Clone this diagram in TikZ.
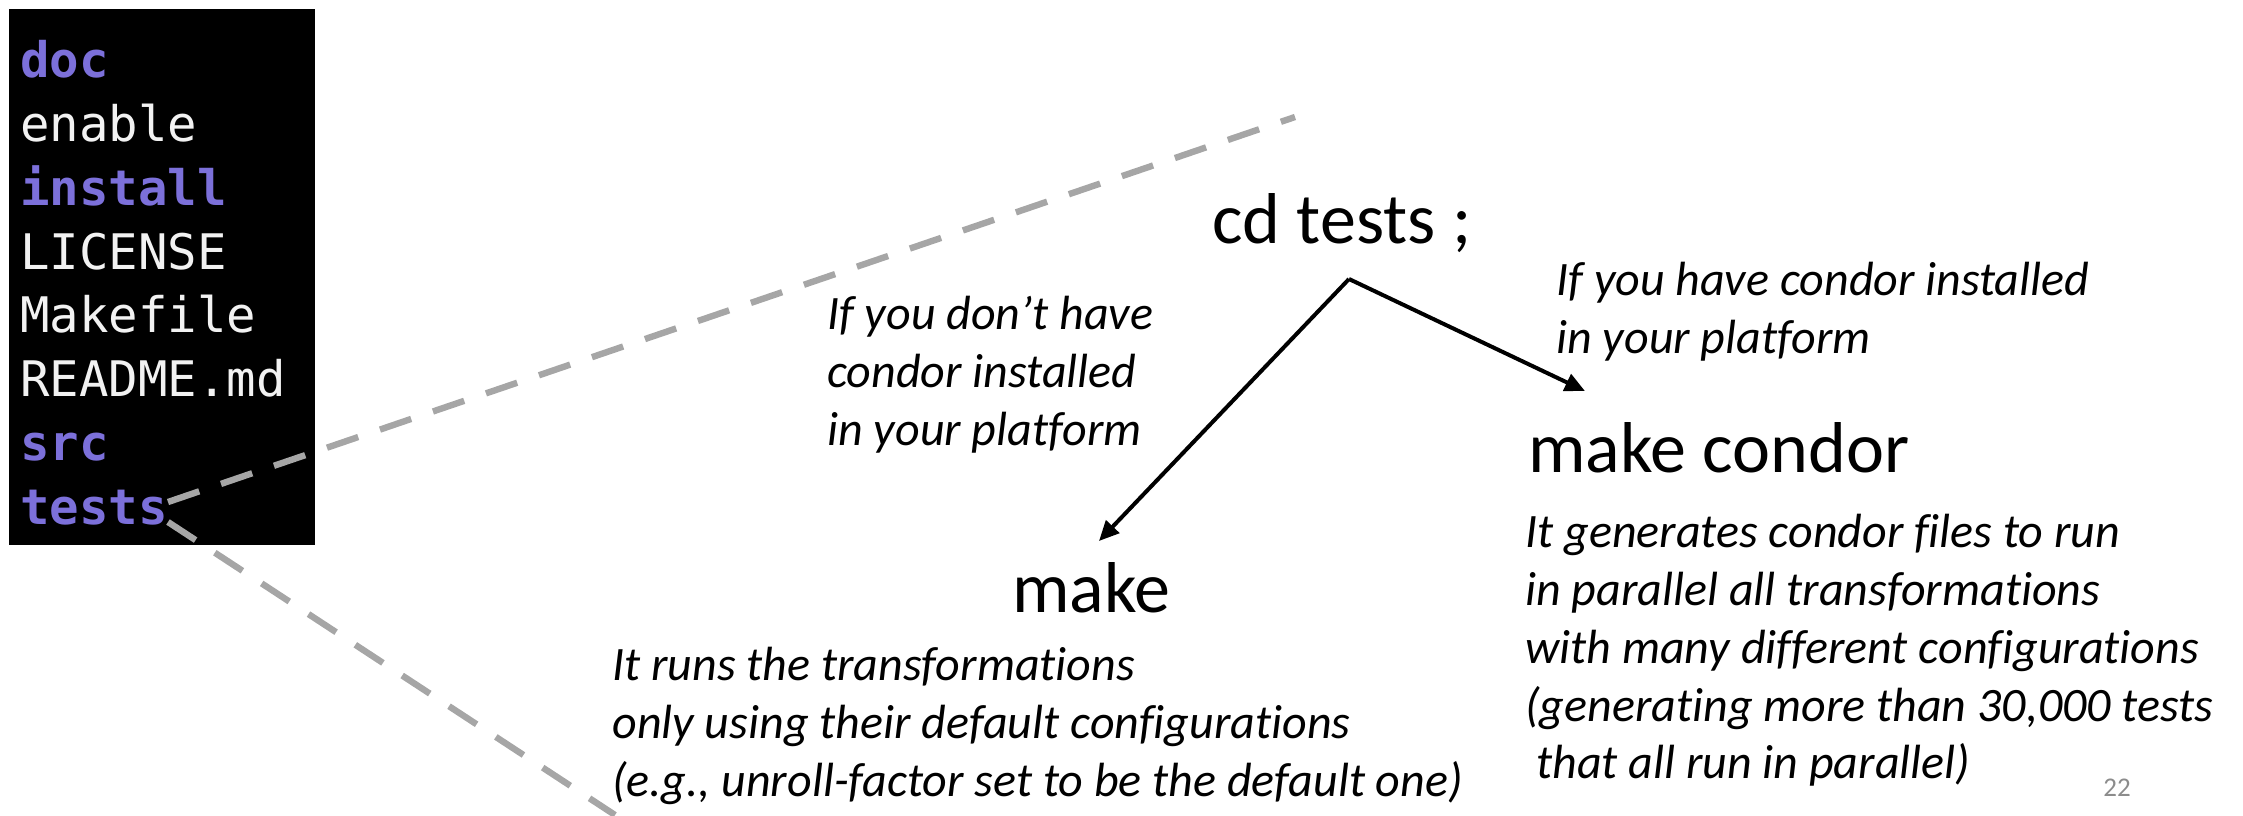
\documentclass[tikz,border=0pt]{standalone}
\usepackage{fontspec}
\setmainfont{Carlito}[RawFeature=-liga]
\newfontfamily\termfont{DejaVu Sans Mono}
\usetikzlibrary{arrows.meta}
\definecolor{dirpurple}{HTML}{7C70DA}
\definecolor{filewhite}{HTML}{F2F2F2}
\definecolor{zoomgrey}{HTML}{A6A6A6}
\definecolor{pagegrey}{HTML}{8C8C8C}
\tikzset{
  listing/.style={font=\termfont\fontsize{24.5}{30}\selectfont, anchor=base west, inner sep=0pt},
  dirname/.style={listing, text=dirpurple, font=\termfont\bfseries\fontsize{24.5}{30}\selectfont},
  filename/.style={listing, text=filewhite},
  command/.style={font=\fontsize{36}{40}\selectfont, inner sep=0pt, anchor=base west},
  note/.style={font=\itshape\fontsize{24}{28.9}\selectfont, inner sep=0pt, anchor=north west, align=left},
  zoomline/.style={draw=zoomgrey, line width=3.2pt, dash pattern=on 16.5pt off 11.5pt},
  branch/.style={draw=black, line width=2pt, -{Triangle[length=10pt,width=9pt]}},
}
\begin{document}
\begin{tikzpicture}[x=0.5pt,y=-0.5pt]
  \useasboundingbox (0,0) rectangle (2243,815);
  % directory listing panel
  \fill[black] (9,9) rectangle (315,545);
  \node[dirname]  (doc)     at (20,77)  {doc};
  \node[filename] (enable)  at (20,141) {enable};
  \node[dirname]  (install) at (20,205) {install};
  \node[filename] (license) at (20,269) {LICENSE};
  \node[filename] (make)    at (20,332) {Makefile};
  \node[filename] (readme)  at (20,396) {README.md};
  \node[dirname]  (src)     at (20,460) {src};
  \node[dirname]  (tests)   at (20,524) {tests};
  % zoom lines from the tests folder
  \coordinate (zA) at (168,502);
  \coordinate (zB) at (1295,117);
  \coordinate (zC) at (168,522);
  \coordinate (zD) at (615,815);
  \draw[zoomline] (zA) -- (zB);
  \draw[zoomline] (zC) -- (zD);
  % commands
  \node[command] (cd)     at (1212,243) {cd tests ;};
  \node[command] (mk)     at (1012,612) {make};
  \node[command] (mkcond) at (1528,472) {make condor};
  % branching arrows
  \coordinate (apex) at (1349,279);
  \coordinate (tipL) at (1099,541);
  \coordinate (tipR) at (1585,391);
  \draw[branch] (apex) -- (tipL);
  \draw[branch] (apex) -- (tipR);
  % explanations
  \node[note] (nocondor) at (827,296) {If you don’t have\\condor installed\\in your platform};
  \node[note] (hascondor) at (1556,262) {If you have condor installed\\in your platform};
  \node[note] (condordesc) at (1525,514) {It generates condor files to run\\in parallel all transformations\\with many different configurations\\(generating more than 30,000 tests\\\ that all run in parallel)};
  \node[note] (makedesc) at (612,647) {It runs the transformations\\only using their default configurations\\(e.g., unroll-factor set to be the default one)};
  % slide number
  \node[font=\fontsize{13.5}{16}\selectfont, text=pagegrey, inner sep=0pt] (page) at (2117,788) {22};
\end{tikzpicture}
\end{document}
